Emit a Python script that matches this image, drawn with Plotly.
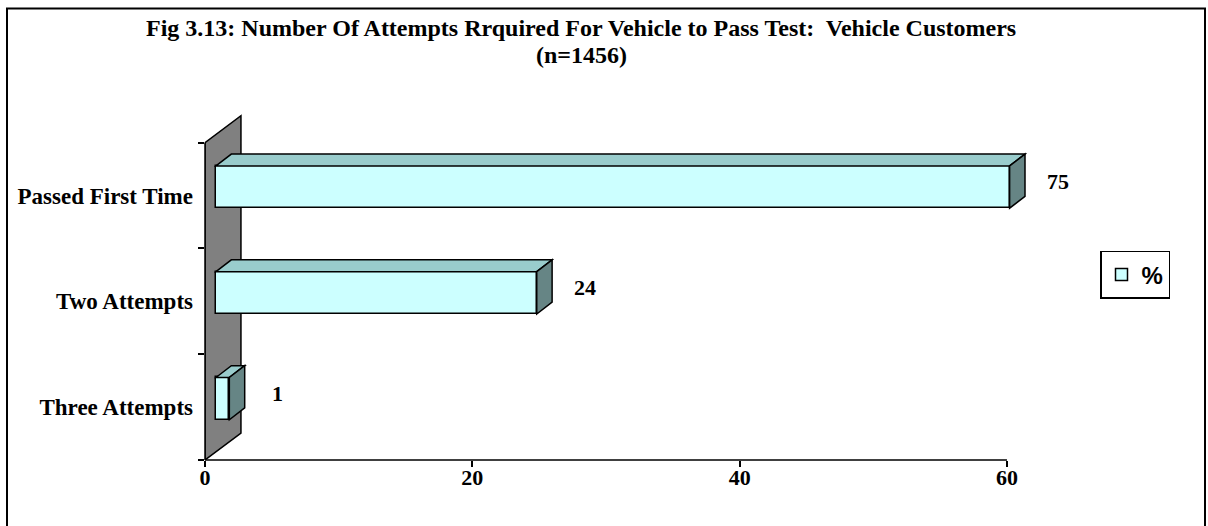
import plotly.graph_objects as go

# ---- data ----
categories = ["Passed First Time", "Two Attempts", "Three Attempts"]
values = [75, 24, 1]
series_name = "%"
x_ticks = [0, 20, 40, 60]
title_lines = ["Fig 3.13: Number Of Attempts Rrquired For Vehicle to Pass Test:  Vehicle Customers", "(n=1456)"]

# ---- style / layout constants ----
W, H = 1208, 526
X_RANGE = [0, 61.5]
Y_RANGE = [-0.5, 2.78]
BAR_BASE = 0.82          # front face starts slightly off the wall (3-D depth)
AXIS_CLIP = 60.2         # bars are cut at the back of the 0-60 axis, like the original
BAR_W = 0.4
BAR_SHIFT = 0.08
DX, DY = 1.15, 0.112     # bar depth
WDX, WDY = 2.69, 0.255   # wall depth
FRONT = "#CCFFFF"
TOP = "#99CCCC"
SIDE = "#668585"
WALL = "#808080"
SERIF = "Liberation Serif"

M_L, M_B = 205, 66
PLOT_W = 822
PLOT_H = 346.7
M_R = W - M_L - PLOT_W
M_T = H - M_B - PLOT_H


def px_x(p):
    return (p - M_L) / PLOT_W


def px_y(p):
    return (H - M_B - p) / PLOT_H


n = len(categories)
pos = [n - 1 - i for i in range(n)]
ends = [min(BAR_BASE + v, AXIS_CLIP) for v in values]
lengths = [e - BAR_BASE for e in ends]

fig = go.Figure()
fig.add_trace(go.Bar(
    y=pos, x=lengths, base=BAR_BASE, orientation="h",
    width=BAR_W, offset=BAR_SHIFT - BAR_W / 2,
    marker=dict(color=FRONT, line=dict(color="black", width=1.5)),
    name="<b>" + series_name + "</b>", showlegend=True, hoverinfo="skip",
))
# invisible trace to carry the second y axis (boundary ticks)
fig.add_trace(go.Scatter(x=[None], y=[None], yaxis="y2", showlegend=False))

shapes = []
# wall
shapes.append(dict(type="path", xref="x", yref="y", layer="below",
                   path=f"M 0,{Y_RANGE[0]} L {WDX},{Y_RANGE[0] + WDY} L {WDX},{2.5 + WDY} L 0,2.5 Z",
                   fillcolor=WALL, line=dict(color="black", width=1.5)))
# wall front edge (y axis line)
shapes.append(dict(type="line", xref="paper", yref="y", x0=0, x1=0, y0=-0.5, y1=2.5,
                   line=dict(color="black", width=1.5)))
# x axis line
shapes.append(dict(type="line", xref="x", yref="paper", x0=0, x1=x_ticks[-1], y0=0, y1=0,
                   line=dict(color="black", width=1.5)))

for p, e in zip(pos, ends):
    yb = p + BAR_SHIFT - BAR_W / 2
    yt = yb + BAR_W
    x0 = BAR_BASE
    shapes.append(dict(type="path", xref="x", yref="y",
                       path=f"M {x0},{yt} L {x0 + DX},{yt + DY} L {e + DX},{yt + DY} L {e},{yt} Z",
                       fillcolor=TOP, line=dict(color="black", width=1.5)))
    shapes.append(dict(type="path", xref="x", yref="y",
                       path=f"M {e},{yb} L {e},{yt} L {e + DX},{yt + DY} L {e + DX},{yb + DY} Z",
                       fillcolor=SIDE, line=dict(color="black", width=1.5)))

# outer frame
shapes.append(dict(type="rect", xref="paper", yref="paper",
                   x0=px_x(7), x1=px_x(1205), y0=px_y(540), y1=px_y(9),
                   line=dict(color="black", width=2), layer="below"))

annotations = []
for p, e, v in zip(pos, ends, values):
    annotations.append(dict(x=e, y=p + 0.13, xref="x", yref="y", text=f"<b>{v}</b>",
                            showarrow=False, xshift=48,
                            font=dict(family=SERIF, size=22, color="black")))
# title lines
for txt, ypx in zip(title_lines, [28, 55]):
    annotations.append(dict(x=px_x(581), y=px_y(ypx), xref="paper", yref="paper",
                            xanchor="center", yanchor="middle", showarrow=False,
                            text=f"<b>{txt}</b>",
                            font=dict(family=SERIF, size=24, color="black")))

fig.update_layout(
    width=W, height=H,
    margin=dict(l=M_L, r=M_R, t=M_T, b=M_B),
    paper_bgcolor="white", plot_bgcolor="white",
    xaxis=dict(range=X_RANGE, tickvals=x_ticks, ticktext=[f"<b>{t}</b>" for t in x_ticks],
               ticks="outside", ticklen=6, tickwidth=1.5, tickcolor="black",
               showgrid=False, zeroline=False, showline=False,
               ticklabelstandoff=-8,
               tickfont=dict(family=SERIF, size=22, color="black")),
    yaxis=dict(range=Y_RANGE, tickvals=pos, ticktext=[f"<b>{c}</b>" for c in categories],
               ticks="", showgrid=False, zeroline=False, showline=False,
               ticklabelstandoff=11,
               tickfont=dict(family=SERIF, size=23, color="black")),
    yaxis2=dict(range=Y_RANGE, overlaying="y", side="left",
                tickvals=[-0.5, 0.5, 1.5, 2.5], showticklabels=False,
                ticks="outside", ticklen=6, tickwidth=1.5, tickcolor="black",
                showgrid=False, zeroline=False, showline=False),
    legend=dict(x=px_x(1100), y=px_y(251), xanchor="left", yanchor="top",
                bordercolor="black", borderwidth=1.5, bgcolor="white",
                font=dict(family="Liberation Sans", size=24, color="black")),
    shapes=shapes, annotations=annotations,
    bargap=0,
)

fig.write_html("out.html", config={"displayModeBar": False},
               post_script="document.body.style.margin='0px';")
